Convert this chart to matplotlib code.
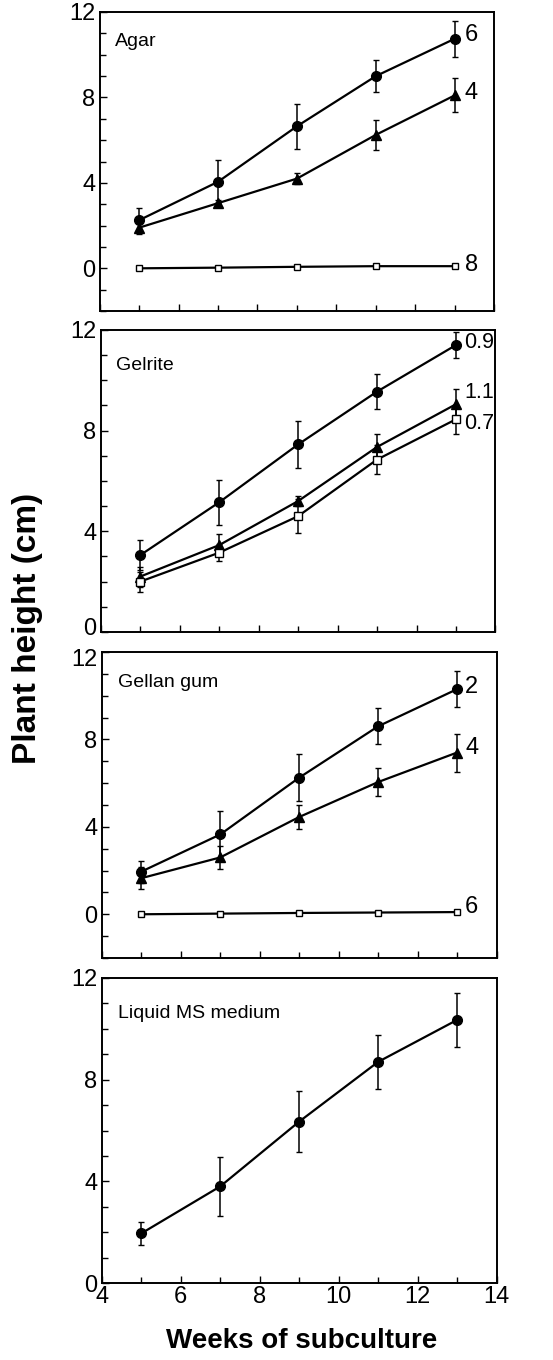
import matplotlib.pyplot as plt
from matplotlib.ticker import MultipleLocator
from matplotlib.transforms import ScaledTranslation

plt.rcParams["font.family"] = ["Liberation Sans", "DejaVu Sans"]

weeks = [5, 7, 9, 11, 13]

# Agar
agar_circle = [2.25, 4.05, 6.65, 9.0, 10.75]
agar_circle_err = [0.55, 1.0, 1.05, 0.75, 0.85]
agar_tri = [1.9, 3.05, 4.2, 6.25, 8.1]
agar_tri_err = [0.3, 0.15, 0.25, 0.7, 0.8]
agar_sq = [0.0, 0.03, 0.07, 0.1, 0.1]
agar_labels = ["6", "4", "8"]

# Gelrite
gel_circle = [3.05, 5.15, 7.45, 9.55, 11.4]
gel_circle_err = [0.6, 0.9, 0.95, 0.7, 0.5]
gel_tri = [2.2, 3.45, 5.2, 7.35, 9.05]
gel_tri_err = [0.4, 0.45, 0.2, 0.5, 0.62]
gel_sq = [2.0, 3.15, 4.6, 6.85, 8.45]
gel_sq_err = [0.4, 0.33, 0.67, 0.58, 0.58]
gel_labels = ["0.9", "1.1", "0.7"]

# Gellan gum
gum_circle = [1.95, 3.65, 6.25, 8.6, 10.3]
gum_circle_err = [0.5, 1.07, 1.08, 0.82, 0.83]
gum_tri = [1.65, 2.6, 4.45, 6.05, 7.4]
gum_tri_err = [0.5, 0.52, 0.53, 0.62, 0.87]
gum_sq = [0.0, 0.03, 0.06, 0.08, 0.1]
gum_labels = ["2", "4", "6"]

# Liquid MS medium
liq_circle = [1.95, 3.8, 6.35, 8.7, 10.35]
liq_circle_err = [0.45, 1.15, 1.2, 1.05, 1.05]

fig = plt.figure(figsize=(5.53, 13.6), dpi=100)
L, W = 0.184, 0.714
axes = [
    fig.add_axes([L - 0.004, 0.7713, W, 0.2199]),
    fig.add_axes([L - 0.002, 0.5353, W, 0.2221]),
    fig.add_axes([L, 0.2956, W, 0.225]),
    fig.add_axes([L, 0.0566, W, 0.2243]),
]


def series(ax, y, err, marker, ms, face="black"):
    ax.errorbar(weeks, y, yerr=err, color="black", lw=1.6, elinewidth=1.1,
                capsize=2.5, capthick=1.1, marker=marker, ms=ms,
                mfc=face, mec="black", mew=1.0, zorder=3)


def style(ax, ymin, title, bottom=False):
    ax.set_xlim(4, 14)
    ax.set_ylim(ymin, 12)
    ax.set_yticks([0, 4, 8, 12])
    ax.yaxis.set_minor_locator(MultipleLocator(1))
    ax.xaxis.set_minor_locator(MultipleLocator(1))
    ax.set_xticks([4, 6, 8, 10, 12, 14])
    ax.tick_params(which="both", direction="in", right=False, top=False,
                   labelsize=17, width=1.0)
    ax.tick_params(which="major", length=5, pad=3)
    ax.tick_params(which="minor", length=4)
    ax.tick_params(axis="x", pad=2)
    if not bottom:
        ax.tick_params(axis="x", labelbottom=False)
    for s in ax.spines.values():
        s.set_linewidth(1.4)
    ax.text(4.4, 10.6, title, fontsize=14, va="center", ha="left")


ax = axes[0]
series(ax, agar_circle, agar_circle_err, "o", 7)
series(ax, agar_tri, agar_tri_err, "^", 7)
series(ax, agar_sq, None, "s", 5, "white")
style(ax, -2, "Agar")
for lab, yv in zip(agar_labels, [10.9, 8.2, 0.15]):
    ax.text(13.25, yv, lab, fontsize=17, va="center", ha="left")

ax = axes[1]
series(ax, gel_circle, gel_circle_err, "o", 7)
series(ax, gel_tri, gel_tri_err, "^", 7)
series(ax, gel_sq, gel_sq_err, "s", 6, "white")
style(ax, 0, "Gelrite")
for lab, yv in zip(gel_labels, [11.5, 9.5, 8.3]):
    ax.text(13.2, yv, lab, fontsize=15.5, va="center", ha="left")

ax = axes[2]
series(ax, gum_circle, gum_circle_err, "o", 7)
series(ax, gum_tri, gum_tri_err, "^", 7)
series(ax, gum_sq, None, "s", 5, "white")
style(ax, -2, "Gellan gum")
for lab, yv in zip(gum_labels, [10.4, 7.6, 0.35]):
    ax.text(13.2, yv, lab, fontsize=17, va="center", ha="left")

ax = axes[3]
series(ax, liq_circle, liq_circle_err, "o", 7)
style(ax, 0, "Liquid MS medium", bottom=True)

fig.text(0.05, 0.538, "Plant height (cm)", rotation=90, fontsize=24,
         fontweight="bold", ha="center", va="center")
fig.text(0.545, 0.014, "Weeks of subculture", fontsize=20,
         fontweight="bold", ha="center", va="center")

# nudge the crowded "0" / "12" labels between panels 2 and 3 apart
fig.canvas.draw()
up = ScaledTranslation(0, 4 / 72, fig.dpi_scale_trans)
down = ScaledTranslation(0, -4 / 72, fig.dpi_scale_trans)
lab0 = axes[1].yaxis.get_major_ticks()[0].label1
lab0.set_transform(lab0.get_transform() + up)
lab12 = axes[2].yaxis.get_major_ticks()[-1].label1
lab12.set_transform(lab12.get_transform() + down)

fig.savefig("out.png", dpi=100)
